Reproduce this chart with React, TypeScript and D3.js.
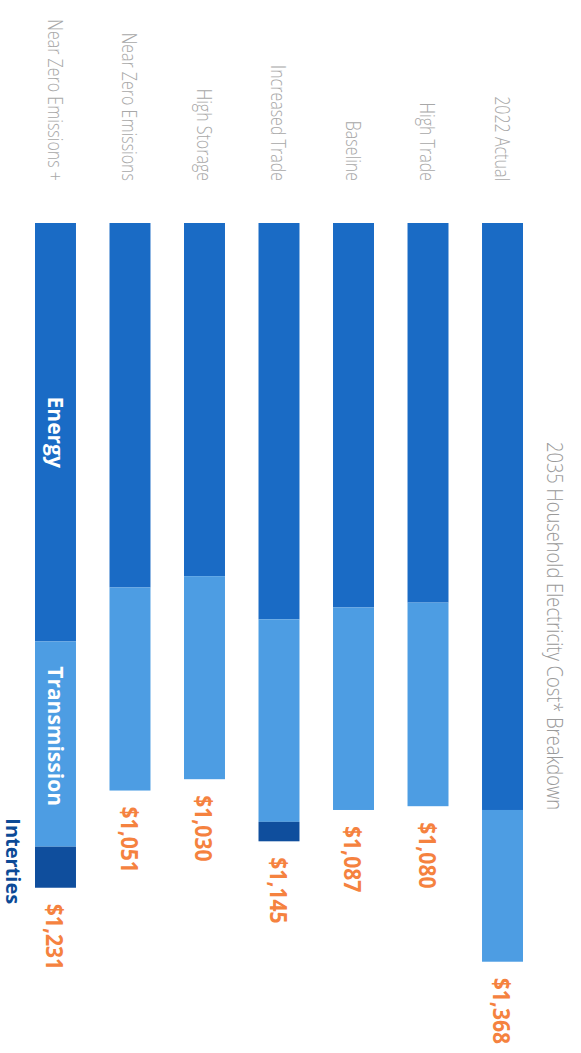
import React from "react";
import * as d3 from "d3";

const categories = [
  "2022 Actual",
  "High Trade",
  "Baseline",
  "Increased Trade",
  "High Storage",
  "Near Zero Emissions",
  "Near Zero Emissions +",
];
const energy = [1087, 703, 712, 734, 654, 675, 775];
const transmission = [281, 377, 375, 375, 376, 376, 380];
const interties = [0, 0, 0, 36, 0, 0, 76];
const seriesKeys = ["Energy", "Transmission", "Interties"];
const title = "2035 Household Electricity Cost* Breakdown";

const W = 581;
const H = 1053;

const colors: Record<string, string> = {
  Energy: "#1a6bc5",
  Transmission: "#4d9de3",
  Interties: "#0f4e9d",
};

export default function App() {
  const rows = categories.map((c, i) => ({
    cat: c,
    Energy: energy[i],
    Transmission: transmission[i],
    Interties: interties[i],
  }));
  const stack = d3.stack<any>().keys(seriesKeys);
  const layers = stack(rows);
  const totals = rows.map((r) => r.Energy + r.Transmission + r.Interties);

  // Drawn in the unrotated frame (width = H, height = W), then rotated 90° clockwise.
  const x = d3.scaleLinear().domain([0, 1400]).range([223, 223 + 1400 * 0.54]);
  const y = d3
    .scaleBand<string>()
    .domain(categories)
    .range([58, 546])
    .paddingInner(0.45)
    .paddingOuter(0);
  const bw = y.bandwidth();
  const fmt = d3.format("$,");
  const last = categories[categories.length - 1];
  const lastIdx = categories.length - 1;

  const segMid = (key: string) => {
    const layer = layers.find((l) => l.key === key)!;
    const d = layer[lastIdx];
    return (x(d[0]) + x(d[1])) / 2;
  };

  return (
    <svg
      width={W}
      height={H}
      style={{ position: "absolute", left: 0, top: 0, background: "#fff" }}
    >
      <rect width={W} height={H} fill="#fff" />
      <g transform={`translate(${W},0) rotate(90)`}>
        {/* title */}
        <text
          x={442}
          y={25}
          dominantBaseline="central"
          fontFamily="'Open Sans', sans-serif"
          fontWeight={300}
          fontSize={22}
          fill="#9a9a9a"
          textLength={368}
          lengthAdjust="spacingAndGlyphs"
        >
          {title}
        </text>

        {/* category labels */}
        {categories.map((c) => (
          <g key={c} transform={`translate(181,${(y(c) ?? 0) + bw / 2}) scale(0.8,1)`}>
            <text
              textAnchor="end"
              dominantBaseline="central"
              fontFamily="'Open Sans', sans-serif"
              fontWeight={300}
              fontSize={20}
              fill="#a8a8a8"
            >
              {c}
            </text>
          </g>
        ))}

        {/* bars */}
        {layers.map((layer) => (
          <g key={layer.key} fill={colors[layer.key]}>
            {layer.map((d, i) =>
              d[1] - d[0] > 0 ? (
                <rect
                  key={i}
                  x={x(d[0])}
                  y={y(categories[i])}
                  width={x(d[1]) - x(d[0])}
                  height={bw}
                />
              ) : null
            )}
          </g>
        ))}

        {/* totals */}
        {categories.map((c, i) => (
          <g
            key={c}
            transform={`translate(${x(totals[i]) + 16},${(y(c) ?? 0) + bw / 2}) scale(0.88,1)`}
          >
            <text
              dominantBaseline="central"
              fontFamily="'Open Sans', sans-serif"
              fontWeight={700}
              fontSize={24}
              fill="#f5823f"
            >
              {fmt(totals[i])}
            </text>
          </g>
        ))}

        {/* series labels */}
        <text
          x={segMid("Energy")}
          y={(y(last) ?? 0) + bw / 2}
          textAnchor="middle"
          dominantBaseline="central"
          fontFamily="'Open Sans', sans-serif"
          fontWeight={700}
          fontSize={21}
          fill="#fff"
        >
          Energy
        </text>
        <text
          x={segMid("Transmission") - 8}
          y={(y(last) ?? 0) + bw / 2}
          textAnchor="middle"
          dominantBaseline="central"
          fontFamily="'Open Sans', sans-serif"
          fontWeight={700}
          fontSize={21}
          fill="#fff"
        >
          Transmission
        </text>
        <text
          x={segMid("Interties") - 6}
          y={(y(last) ?? 0) + bw + 29}
          textAnchor="middle"
          fontFamily="'Open Sans', sans-serif"
          fontWeight={700}
          fontSize={20}
          fill="#0c4a96"
        >
          Interties
        </text>
      </g>
    </svg>
  );
}
